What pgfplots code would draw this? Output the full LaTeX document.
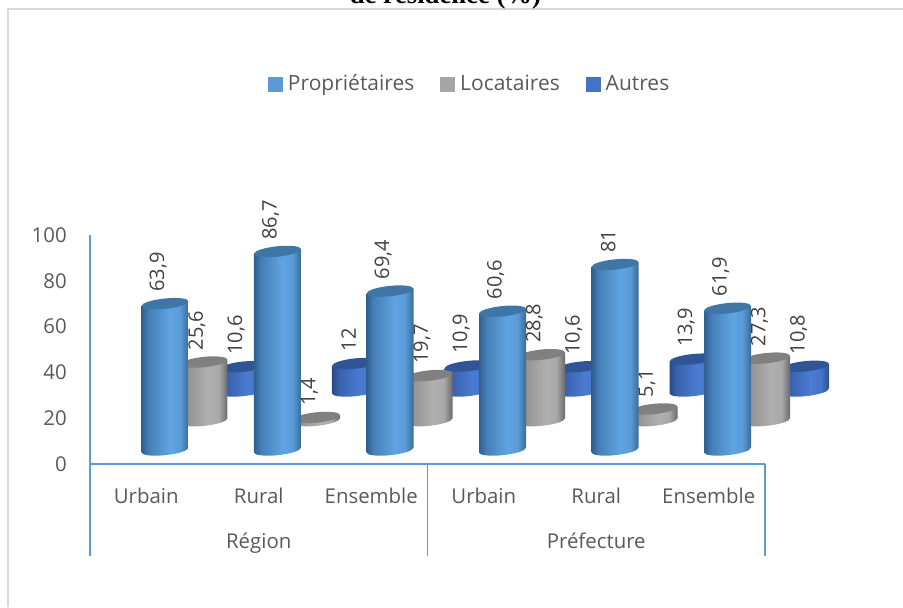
\documentclass[border=0pt]{standalone}
\usepackage{fontspec}
\setmainfont{Open Sans}
\newfontfamily\titlefont{Liberation Serif}
\usepackage{pgfplots}
\usepackage{pgfplotstable}
\pgfplotsset{compat=1.18}

\definecolor{axisblue}{HTML}{5B9BD5}
\definecolor{txtgray}{HTML}{595959}
\definecolor{lblgray}{HTML}{404040}
\definecolor{legprop}{HTML}{5B9BD5}
\definecolor{legloc}{HTML}{A5A5A5}
\definecolor{legaut}{HTML}{4472C4}

% shades of the cylinders: left edge, left side, light, mid, right edge
\definecolor{pa}{HTML}{2F5F8F}\definecolor{pb}{HTML}{4680B8}\definecolor{pc}{HTML}{5FA3E2}\definecolor{pd}{HTML}{5A9CD8}\definecolor{pe}{HTML}{3A6A98}
\definecolor{la}{HTML}{757575}\definecolor{lb}{HTML}{949494}\definecolor{lc}{HTML}{B0B0B0}\definecolor{ld}{HTML}{A8A8A8}\definecolor{le}{HTML}{6A6A6A}
\definecolor{aa}{HTML}{2A4A85}\definecolor{ab}{HTML}{3A62AC}\definecolor{ac}{HTML}{4A7BD2}\definecolor{ad}{HTML}{4675C8}\definecolor{ae}{HTML}{2E5090}

% tikz maps 25bp..75bp on the bar width
\pgfdeclarehorizontalshading{cylprop}{100bp}{color(0bp)=(pa); color(25bp)=(pa); color(33bp)=(pb); color(55bp)=(pc); color(66bp)=(pd); color(75bp)=(pe); color(100bp)=(pe)}
\pgfdeclarehorizontalshading{cylloc}{100bp}{color(0bp)=(la); color(25bp)=(la); color(33bp)=(lb); color(55bp)=(lc); color(66bp)=(ld); color(75bp)=(le); color(100bp)=(le)}
\pgfdeclarehorizontalshading{cylaut}{100bp}{color(0bp)=(aa); color(25bp)=(aa); color(33bp)=(ab); color(55bp)=(ac); color(66bp)=(ad); color(75bp)=(ae); color(100bp)=(ae)}

% top and bottom of a cylinder, moved to the place of its series
\newcommand{\cylmarks}[5]{%
  \pgfdeclareplotmark{top#1}{%
    \pgfpathellipse{\pgfqpoint{#4}{#5}}{\pgfqpoint{17.6pt}{1.76pt}}{\pgfqpoint{0pt}{3.9pt}}%
    \pgfsetfillcolor{#2}\pgfusepathqfill}%
  \pgfdeclareplotmark{base#1}{%
    \pgfpathellipse{\pgfqpoint{#4}{#5}}{\pgfqpoint{17.6pt}{1.76pt}}{\pgfqpoint{0pt}{3.9pt}}%
    \pgfshadepath{#3}{0}\pgfusepath{discard}}%
}
\definecolor{topprop}{HTML}{3F76A6}
\definecolor{toploc}{HTML}{808080}
\definecolor{topaut}{HTML}{2F5597}
\cylmarks{aut}{topaut}{cylaut}{72.56pt}{54.75pt}
\cylmarks{loc}{toploc}{cylloc}{43.31pt}{32.5pt}
\cylmarks{prop}{topprop}{cylprop}{14.06pt}{10.5pt}

\pgfplotstableread{
i  prop  loc   aut  base
0  63.9  25.6  10.6 0
1  86.7  1.4   12   0
2  69.4  19.7  10.9 0
3  60.6  28.8  10.6 0
4  81    5.1   13.9 0
5  61.9  27.3  10.8 0
}\datatable

\begin{document}
\begin{tikzpicture}
\draw[color=black!15,line width=1.6pt] (609.75pt,341.25pt) -- (-61.5pt,341.25pt) -- (-61.5pt,-107.25pt);
\node[anchor=base,inner sep=0pt,font=\titlefont\bfseries\fontsize{20}{24}\selectfont] at (266.6pt,345.4pt) {de résidence (\%)};
\begin{axis}[
    set layers=standard,
    mark layer=like plot,
    scale only axis,
    width=506.25pt, height=171.75pt,
    xmin=-0.5, xmax=5.5, ymin=0, ymax=100,
    clip=false,
    axis x line=bottom, axis y line=left,
    axis line style={-,draw=axisblue,line width=1.3pt},
    tick align=outside,
    major tick length=0pt,
    tick style={draw=axisblue,line width=1.3pt},
    xtick={0,...,5},
    xticklabels={Urbain,Rural,Ensemble,Urbain,Rural,Ensemble},
    extra x ticks={-0.5,2.5,5.5},
    extra x tick labels={},
    extra x tick style={major tick length=69pt,tick style={draw=axisblue,line width=1.3pt}},
    ytick={0,20,...,100},
    tick label style={font=\fontsize{15.3}{18}\selectfont,text=txtgray},
    xticklabel style={anchor=base,yshift=-29.25pt},
    yticklabel style={inner sep=0pt,xshift=-17.25pt},
    /pgf/number format/assume math mode=true,
    /pgf/number format/use comma,
    /pgf/number format/fixed,
    legend columns=3,
    legend cell align=left,
    legend style={at={(0.563,1.660)},anchor=center,draw=none,fill=none,
      font=\fontsize{15.75}{18}\selectfont,text=txtgray,
      /tikz/every odd column/.append style={column sep=2pt},
      /tikz/every even column/.append style={column sep=17.5pt}},
]
\addlegendimage{legend image code/.code={\fill[legprop] (0pt,-5.25pt) rectangle (10.5pt,5.25pt);}}
\addlegendentry{Propriétaires}
\addlegendimage{legend image code/.code={\fill[legloc] (0pt,-5.25pt) rectangle (10.5pt,5.25pt);}}
\addlegendentry{Locataires}
\addlegendimage{legend image code/.code={\fill[legaut] (0pt,-5.25pt) rectangle (10.5pt,5.25pt);}}
\addlegendentry{Autres}

% one plot per bar, so that each bar gets its own shading; back row first.
% the shear follows the tilt of the ellipses, the yshift takes its offset back out;
% (-0.5,0) is the axis corner, i.e. no translation in the cm
\pgfplotsinvokeforeach{0,...,5}{
  \addplot[forget plot,only marks,mark=baseaut,x filter/.code={\ifnum\coordindex=#1\else\def\pgfmathresult{}\fi}] table[x=i,y=base] {\datatable};
  \addplot[forget plot,ybar,bar width=35.25pt,bar shift=72.56pt,yshift={54.75pt-0.1*((#1+0.5)*84.375pt+72.56pt)},cm={1,0.1,0,1,(-0.5,0)},draw=none,shade,shading=cylaut,x filter/.code={\ifnum\coordindex=#1\else\def\pgfmathresult{}\fi}] table[x=i,y=aut] {\datatable};
  \addplot[forget plot,only marks,mark=topaut,x filter/.code={\ifnum\coordindex=#1\else\def\pgfmathresult{}\fi}] table[x=i,y=aut] {\datatable};
}
\pgfplotsinvokeforeach{0,...,5}{
  \addplot[forget plot,only marks,mark=baseloc,x filter/.code={\ifnum\coordindex=#1\else\def\pgfmathresult{}\fi}] table[x=i,y=base] {\datatable};
  \addplot[forget plot,ybar,bar width=35.25pt,bar shift=43.31pt,yshift={32.5pt-0.1*((#1+0.5)*84.375pt+43.31pt)},cm={1,0.1,0,1,(-0.5,0)},draw=none,shade,shading=cylloc,x filter/.code={\ifnum\coordindex=#1\else\def\pgfmathresult{}\fi}] table[x=i,y=loc] {\datatable};
  \addplot[forget plot,only marks,mark=toploc,x filter/.code={\ifnum\coordindex=#1\else\def\pgfmathresult{}\fi}] table[x=i,y=loc] {\datatable};
}
\pgfplotsinvokeforeach{0,...,5}{
  \addplot[forget plot,only marks,mark=baseprop,x filter/.code={\ifnum\coordindex=#1\else\def\pgfmathresult{}\fi}] table[x=i,y=base] {\datatable};
  \addplot[forget plot,ybar,bar width=35.25pt,bar shift=14.06pt,yshift={10.5pt-0.1*((#1+0.5)*84.375pt+14.06pt)},cm={1,0.1,0,1,(-0.5,0)},draw=none,shade,shading=cylprop,x filter/.code={\ifnum\coordindex=#1\else\def\pgfmathresult{}\fi}] table[x=i,y=prop] {\datatable};
  \addplot[forget plot,only marks,mark=topprop,x filter/.code={\ifnum\coordindex=#1\else\def\pgfmathresult{}\fi}] table[x=i,y=prop] {\datatable};
}

% data labels on top of everything
\pgfplotsset{lbl/.style 2 args={forget plot,only marks,mark=none,point meta=y,
    nodes near coords,
    nodes near coords style={inner sep=0pt,anchor=west,shift={(#1,#2)},rotate=90,
      font=\fontsize{15}{18}\selectfont,text=lblgray}}}
\addplot[lbl={67.5pt}{63.75pt}] table[x=i,y=aut] {\datatable};
\addplot[lbl={38pt}{41.25pt}] table[x=i,y=loc] {\datatable};
\addplot[lbl={9pt}{19.25pt}] table[x=i,y=prop] {\datatable};

\node[anchor=base,font=\fontsize{15.3}{18}\selectfont,text=txtgray] at (axis cs:1,0) [yshift=-63pt] {Région};
\node[anchor=base,font=\fontsize{15.3}{18}\selectfont,text=txtgray] at (axis cs:4,0) [yshift=-63pt] {Préfecture};
\end{axis}
\pgfresetboundingbox
\useasboundingbox (-67.5pt,-107.25pt) rectangle (609.75pt,348pt);
\end{tikzpicture}
\end{document}
